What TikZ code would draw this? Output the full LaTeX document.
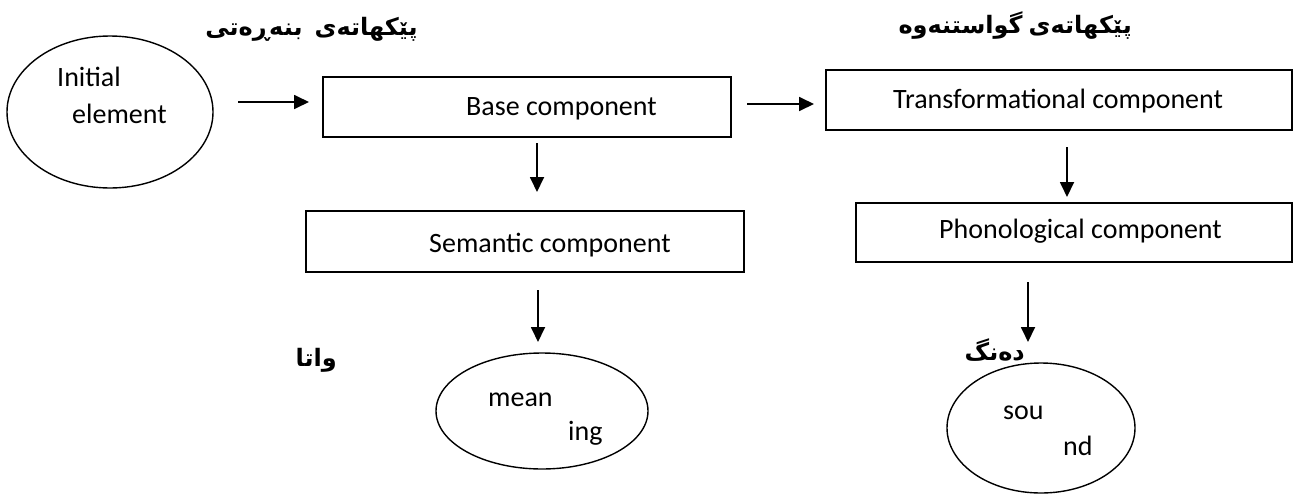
\documentclass[tikz,border=0pt]{standalone}
\usepackage{fontspec}
\setmainfont{Carlito}
\newfontfamily\kurd[Script=Arabic]{DejaVu Sans}
\TeXXeTstate=1
\usetikzlibrary{shapes.geometric,arrows.meta}
\begin{document}
\begin{tikzpicture}[x=1pt,y=-1pt,
  box/.style={draw,line width=1.4pt,inner sep=0pt},
  oval/.style={draw,ellipse,line width=1.4pt,inner sep=0pt},
  lbl/.style={inner sep=0pt,font=\fontsize{28}{34}\selectfont},
  klbl/.style={inner sep=0pt,font=\kurd\bfseries\fontsize{24}{30}\selectfont},
  arr/.style={line width=1.8pt,-{Triangle[length=15pt,width=14pt]}}]
\useasboundingbox (0,0) rectangle (1312,496);
% top labels
\node[klbl,anchor=base east] (kbase) at (418,35) {\beginR بنەڕەتی\endR\hspace{12pt}\beginR پێکهاتەی\endR};
\node[klbl,anchor=base east] (ktrans) at (1132,33) {\beginR گواستنەوە\endR\hspace{6pt}\beginR پێکهاتەی\endR};
% initial element
\node[oval,minimum width=206pt,minimum height=152pt] (init) at (110,112) {};
\node[lbl,anchor=base west] (initA) at (57,86) {Initial};
\node[lbl,anchor=base west] (initB) at (72,123) {element};
% boxes
\node[box,minimum width=408pt,minimum height=60pt] (base) at (527,107) {};
\node[lbl,anchor=base west] (baset) at (466,115) {Base component};
\node[box,minimum width=466pt,minimum height=60pt] (trans) at (1059,100) {};
\node[lbl,anchor=base west] (transt) at (893,108) {Transformational component};
\node[box,minimum width=438pt,minimum height=61pt] (sem) at (525,241.5) {};
\node[lbl,anchor=base west] (semt) at (429,252) {Semantic component};
\node[box,minimum width=436pt,minimum height=59pt] (phon) at (1074,232.5) {};
\node[lbl,anchor=base west] (phont) at (939,238) {Phonological component};
% bottom labels
\node[klbl,anchor=base east] (kmean) at (337,366) {\beginR واتا\endR};
\node[klbl,anchor=base east] (ksound) at (1025,360) {\beginR دەنگ\endR};
% bottom ellipses
\node[oval,minimum width=212pt,minimum height=116pt] (mean) at (542,411) {};
\node[lbl,anchor=base west] (meanA) at (488,406) {mean};
\node[lbl,anchor=base west] (meanB) at (568,440) {ing};
\node[oval,minimum width=188pt,minimum height=130pt] (sound) at (1041,428) {};
\node[lbl,anchor=base west] (soundA) at (1003,419) {sou};
\node[lbl,anchor=base west] (soundB) at (1063,455) {nd};
% arrow end points
\coordinate (a1s) at (238,102);
\coordinate (a1e) at (309,102);
\coordinate (a2s) at (747,104);
\coordinate (a2e) at (814,104);
\coordinate (d1s) at (537,143);
\coordinate (d1e) at (537,192);
\coordinate (d2s) at (1067,147);
\coordinate (d2e) at (1067,197);
\coordinate (d3s) at (538,290);
\coordinate (d3e) at (538,342);
\coordinate (d4s) at (1028,282);
\coordinate (d4e) at (1028,342);
\draw[arr] (a1s) -- (a1e);
\draw[arr] (a2s) -- (a2e);
\draw[arr] (d1s) -- (d1e);
\draw[arr] (d2s) -- (d2e);
\draw[arr] (d3s) -- (d3e);
\draw[arr] (d4s) -- (d4e);
\end{tikzpicture}
\end{document}
